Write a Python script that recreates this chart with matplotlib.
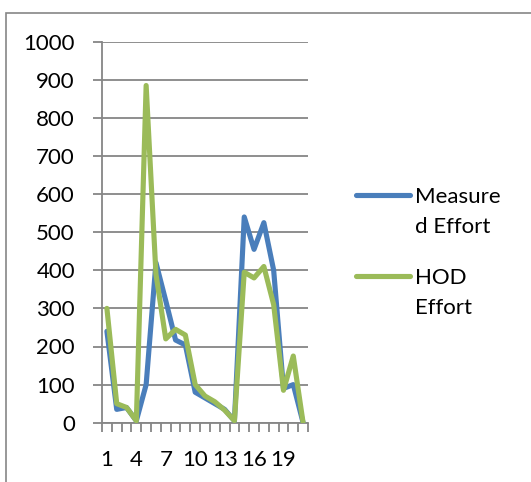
import matplotlib
matplotlib.use("Agg")
import matplotlib.pyplot as plt
from matplotlib.lines import Line2D
from matplotlib.patches import Rectangle
import numpy as np

plt.rcParams['font.family'] = ['Lato', 'DejaVu Sans']

# effort per item, 21 items
items = list(range(1, 22))
measured = [240, 35, 40, 5, 100, 420, 320, 217, 204, 80, 65, 50, 35, 5,
            540, 455, 525, 400, 90, 100, 0]
hod = [300, 50, 40, 5, 885, 390, 220, 245, 230, 100, 70, 55, 33, 5,
       395, 380, 410, 310, 85, 175, 0]
tick_labels = ['1', '4', '7', '10', '13', '16', '19']

blue = '#4A7EBB'
green = '#9BBB59'
grid_c = '#868686'
fs = 16

fig = plt.figure(figsize=(5.31, 4.82), dpi=100)
ax = fig.add_axes([102 / 531, 1 - 422.7 / 482, 206 / 531, 381 / 482])

x = np.arange(len(items))
ax.plot(x, measured, color=blue, lw=3.7, solid_joinstyle='round', solid_capstyle='round', zorder=3)
ax.plot(x, hod, color=green, lw=3.7, solid_joinstyle='round', solid_capstyle='round', zorder=4)

ax.set_xlim(-0.5, len(items) - 0.5)
ax.set_ylim(0, 1000)
ax.set_yticks(np.arange(0, 1001, 100))
ax.yaxis.grid(True, color=grid_c, lw=1.3)
ax.set_axisbelow(True)

# category boundaries get tick marks, labels sit on every third category
ax.set_xticks(np.arange(-0.5, len(items)), minor=False)
ax.set_xticklabels([])
ax.set_xticks(np.arange(0, len(items), 3), minor=True)
ax.set_xticklabels(tick_labels, minor=True)
ax.tick_params(axis='x', which='major', length=6.5, width=1.3, color=grid_c, direction='out')
ax.tick_params(axis='x', which='minor', length=0, pad=20, labelsize=fs)
ax.tick_params(axis='y', length=6.5, width=1.3, color=grid_c, pad=13, labelsize=fs)

for s in ['top', 'right']:
    ax.spines[s].set_visible(False)
for s in ['left', 'bottom']:
    ax.spines[s].set_color(grid_c)
    ax.spines[s].set_linewidth(1.3)

# chart frame
fig.add_artist(Rectangle((6 / 531, -0.1), 1.2, 1.1 - 13 / 482, transform=fig.transFigure,
                         fill=False, edgecolor=grid_c, lw=1.2))

# legend
legend = [(blue, 'Measure\nd Effort', 195), (green, 'HOD\nEffort', 276)]
for col, txt, ypix in legend:
    yf = 1 - ypix / 482
    fig.add_artist(Line2D([356 / 531, 410 / 531], [yf, yf], transform=fig.transFigure,
                          color=col, lw=3.7, solid_capstyle='round'))
    fig.text(415 / 531, 1 - (ypix - 8) / 482, txt, ha='left', va='top',
             fontsize=fs, linespacing=1.65)

fig.savefig('out.png', dpi=100)
